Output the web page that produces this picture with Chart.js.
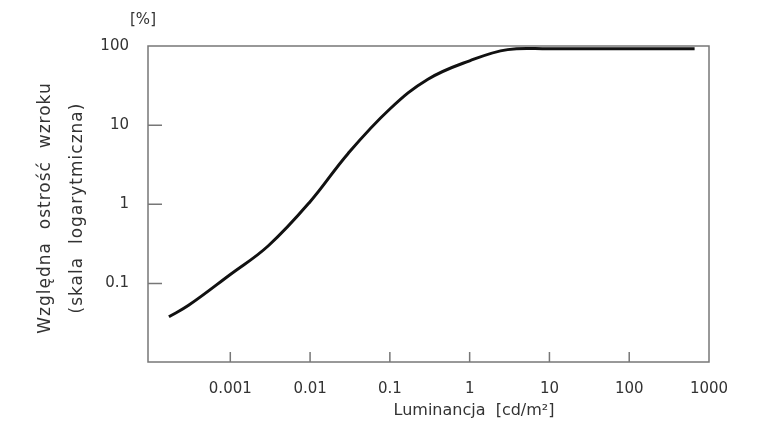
<!DOCTYPE html>
<html>
<head>
<meta charset="utf-8">
<script src="https://cdn.jsdelivr.net/npm/chart.js@4"></script>
<style>
  html, body { margin: 0; padding: 0; background: #fff; }
  #wrap { width: 763px; height: 430px; }
</style>
</head>
<body>
<div id="wrap"><canvas id="acuityChart"></canvas></div>
<script>
// values
const luminance = [0.00017, 0.0003, 0.001, 0.003, 0.01, 0.03, 0.1, 0.3, 1, 3, 10, 100, 660];
const acuity = [0.038, 0.053, 0.13, 0.30, 1.08, 4.4, 16, 38, 65, 90, 92, 92, 92];

const xTickValues = [0.001, 0.01, 0.1, 1, 10, 100, 1000];
const yTickValues = [0.1, 1, 10, 100];
const xRange = [0.000093, 1000];
const yRange = [0.0102, 100];

const yTitle = ['Względna  ostrość  wzroku', '(skala  logarytmiczna)'];
const xTitle = 'Luminancja  [cd/m²]';
const unitLabel = '[%]';

const FONT = 'DejaVu Sans';
const INK = '#333';
const FRAME = '#777';

const framePlugin = {
  id: 'frame',
  beforeDatasetsDraw(chart) {
    const { ctx, chartArea: a, scales } = chart;
    ctx.save();
    ctx.strokeStyle = FRAME;
    ctx.lineWidth = 1.5;
    ctx.strokeRect(a.left, a.top, a.right - a.left, a.bottom - a.top);

    // short inward tick marks
    ctx.beginPath();
    xTickValues.slice(0, -1).forEach((v) => {
      const x = scales.x.getPixelForValue(v);
      ctx.moveTo(x, a.bottom);
      ctx.lineTo(x, a.bottom - 10);
    });
    yTickValues.slice(0, -1).forEach((v) => {
      const y = scales.y.getPixelForValue(v);
      ctx.moveTo(a.left, y);
      ctx.lineTo(a.left + 14, y);
    });
    ctx.stroke();
    ctx.restore();
  },
  afterDraw(chart) {
    const { ctx, chartArea: a } = chart;
    const midY = (a.top + a.bottom) / 2;
    ctx.save();
    ctx.fillStyle = INK;
    ctx.textAlign = 'center';
    ctx.textBaseline = 'middle';
    ctx.font = `15px "${FONT}"`;
    ctx.fillText(unitLabel, a.left - 5, a.top - 26);
    ctx.font = `16px "${FONT}"`;
    ctx.fillText(xTitle, 474, 411);

    // rotated y title, two lines
    ctx.font = `17px "${FONT}"`;
    ctx.letterSpacing = '1px';
    ctx.translate(0, midY + 4);
    ctx.rotate(-Math.PI / 2);
    ctx.fillText(yTitle[0], 0, 46);
    ctx.fillText(yTitle[1], 0, 78);
    ctx.restore();
  },
};

new Chart(document.getElementById('acuityChart'), {
  type: 'line',
  data: {
    datasets: [
      {
        data: luminance.map((x, i) => ({ x, y: acuity[i] })),
        borderColor: '#111',
        borderWidth: 3,
        pointRadius: 0,
        fill: false,
        tension: 0.4,
      },
    ],
  },
  options: {
    responsive: true,
    maintainAspectRatio: false,
    animation: false,
    layout: { padding: { top: 46, right: 54, left: 0, bottom: 0 } },
    plugins: { legend: { display: false }, tooltip: { enabled: false } },
    scales: {
      x: {
        type: 'logarithmic',
        min: xRange[0],
        max: xRange[1],
        grid: { display: false },
        border: { display: false },
        afterBuildTicks: (axis) => {
          axis.ticks = xTickValues.map((value) => ({ value }));
        },
        afterFit: (axis) => {
          axis.height = 68;
        },
        ticks: {
          autoSkip: false,
          maxRotation: 0,
          padding: 10,
          color: INK,
          font: { family: FONT, size: 15 },
          callback: (v) => String(v),
        },
      },
      y: {
        type: 'logarithmic',
        min: yRange[0],
        max: yRange[1],
        grid: { display: false },
        border: { display: false },
        afterBuildTicks: (axis) => {
          axis.ticks = yTickValues.map((value) => ({ value }));
        },
        afterFit: (axis) => {
          axis.width = 148;
        },
        ticks: {
          autoSkip: false,
          padding: 11,
          color: INK,
          font: { family: FONT, size: 15 },
          callback: (v) => String(v),
        },
      },
    },
  },
  plugins: [framePlugin],
});
</script>
</body>
</html>
